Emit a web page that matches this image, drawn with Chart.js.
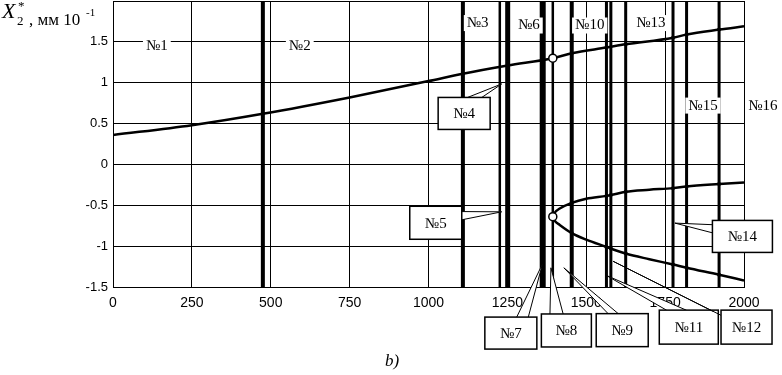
<!DOCTYPE html>
<html lang="ru">
<head>
  <meta charset="UTF-8" />
  <title>X2* по областям</title>
  <script src="https://cdn.jsdelivr.net/npm/chart.js"></script>
  <style>
    body { margin: 0; background: #fff; }
    #chart { display: block; }
  </style>
</head>
<body>
  <canvas id="chart" width="782" height="375"></canvas>

  <script>
    // верхняя ветвь
    const upperX = [0, 250, 475, 750, 1000, 1109, 1251, 1394, 1454, 1564, 1625, 1775, 1818, 1921, 2000];
    const upperY = [0.36, 0.48, 0.62, 0.82, 1.02, 1.11, 1.21, 1.30, 1.36, 1.43, 1.47, 1.55, 1.59, 1.65, 1.69];

    // нижние ветви после бифуркации
    const branchX = [1394, 1400, 1416, 1454, 1500, 1564, 1578, 1625, 1700, 1775, 1818, 1921, 2000];
    const branchUpY = [-0.64, -0.59, -0.54, -0.47, -0.42, -0.385, -0.375, -0.335, -0.31, -0.29, -0.27, -0.24, -0.22];
    const branchLowY = [-0.64, -0.69, -0.74, -0.84, -0.92, -1.01, -1.03, -1.09, -1.16, -1.225, -1.265, -1.35, -1.42];

    // точки бифуркации (светлые кружки)
    const openX = [1394, 1394];
    const openY = [1.30, -0.64];

    // границы областей
    const boundX = [475, 1109, 1226, 1251, 1362, 1394, 1454, 1564, 1578, 1625, 1775, 1818, 1921];
    const boundW = [4, 4, 2.5, 5, 6, 2.5, 4, 3, 3, 3, 3, 3, 3];

    const xTicks = [0, 250, 500, 750, 1000, 1250, 1500, 1750, 2000];
    const yTicks = [-1.5, -1, -0.5, 0, 0.5, 1, 1.5];

    // подписи областей
    const areaLabels = [
      { t: '№1', x: 139, y: 1.45 },
      { t: '№2', x: 592, y: 1.45 },
      { t: '№3', x: 1156, y: 1.73 },
      { t: '№6', x: 1318, y: 1.70 },
      { t: '№10', x: 1511, y: 1.70 },
      { t: '№13', x: 1705, y: 1.73 },
      { t: '№15', x: 1870, y: 0.72 },
      { t: '№16', x: 2060, y: 0.72 }
    ];

    // выноски: рамка, острие и основание клина
    const callouts = [
      { t: '№4', c: [1113, 0.624], w: 52, h: 32, tip: [1232, 0.985], a: [1124, 0.82], b: [1169, 0.82] },
      { t: '№5', c: [1023, -0.714], w: 52, h: 33, tip: [1232, -0.58], a: [1105, -0.577], b: [1105, -0.678] },
      { t: '№7', c: [1261, -2.064], w: 52, h: 32, tip: [1361, -1.22], a: [1279, -1.873], b: [1316, -1.873] },
      { t: '№8', c: [1437, -2.032], w: 50, h: 33, tip: [1388, -1.265], a: [1385, -1.833], b: [1427, -1.833] },
      { t: '№9', c: [1614, -2.028], w: 52, h: 33, tip: [1429, -1.265], a: [1569, -1.825], b: [1601, -1.825] },
      { t: '№11', c: [1825, -1.991], w: 59, h: 34, tip: [1564, -1.359], a: [1755, -1.785], b: [1818, -1.785] },
      { t: '№12', c: [2008, -1.991], w: 51, h: 34, tip: [1585, -1.185], a: [1901, -1.797], b: [1927, -1.846] },
      { t: '№14', c: [1995, -0.881], w: 60, h: 32, tip: [1781, -0.718], a: [1902, -0.738], b: [1902, -0.839] }
    ];

    const pts = (xs, ys) => xs.map((x, i) => ({ x: x, y: ys[i] }));
    const dotAt = (ctx) => {
      const p = ctx.raw;
      return p && boundX.includes(p.x) ? 2 : 0;
    };

    const datasets = [];
    datasets.push({ data: pts(openX, openY), showLine: false, pointRadius: 4,
      pointBackgroundColor: '#fff', pointBorderColor: '#000', pointBorderWidth: 1.5, order: 0 });
    [[upperX, upperY], [branchX, branchUpY], [branchX, branchLowY]].forEach(([xs, ys]) => {
      datasets.push({ data: pts(xs, ys), showLine: true, borderColor: '#000', borderWidth: 2.5,
        pointRadius: dotAt, pointBackgroundColor: '#000', pointBorderWidth: 0,
        cubicInterpolationMode: 'monotone', order: 1 });
    });
    boundX.forEach((x, i) => {
      datasets.push({ data: [{ x: x, y: -1.5 }, { x: x, y: 2 }], showLine: true, borderColor: '#000',
        borderWidth: boundW[i], pointRadius: 0, order: 2 });
    });

    const annotate = {
      id: 'annotate',
      afterDraw(chart) {
        const c = chart.ctx;
        const sx = chart.scales.x, sy = chart.scales.y;
        const px = (v) => sx.getPixelForValue(v);
        const py = (v) => sy.getPixelForValue(v);
        c.save();
        c.textAlign = 'center';
        c.textBaseline = 'middle';
        c.font = '15px "Liberation Serif", serif';

        areaLabels.forEach(l => {
          const w = c.measureText(l.t).width;
          c.fillStyle = '#fff';
          c.fillRect(px(l.x) - w / 2 - 3, py(l.y) - 8, w + 6, 16);
          c.fillStyle = '#000';
          c.fillText(l.t, px(l.x), py(l.y));
        });

        callouts.forEach(k => {
          const tx = px(k.tip[0]), ty = py(k.tip[1]);
          const ax = px(k.a[0]), ay = py(k.a[1]);
          const bx = px(k.b[0]), by = py(k.b[1]);
          c.fillStyle = '#fff';
          c.beginPath(); c.moveTo(ax, ay); c.lineTo(tx, ty); c.lineTo(bx, by); c.closePath(); c.fill();
          c.strokeStyle = '#000'; c.lineWidth = 1;
          c.beginPath(); c.moveTo(ax, ay); c.lineTo(tx, ty); c.lineTo(bx, by); c.stroke();
          const cx = px(k.c[0]), cy = py(k.c[1]);
          c.fillStyle = '#fff';
          c.fillRect(cx - k.w / 2, cy - k.h / 2, k.w, k.h);
          c.lineWidth = 1.5;
          c.strokeRect(cx - k.w / 2, cy - k.h / 2, k.w, k.h);
          c.fillStyle = '#000';
          c.fillText(k.t, cx, cy + 1);
        });

        // подпись оси Y
        c.textAlign = 'left';
        c.textBaseline = 'alphabetic';
        c.fillStyle = '#000';
        c.font = 'italic 22px "Liberation Serif", serif';
        c.fillText('X', 2, 18);
        c.font = '13px "Liberation Serif", serif';
        c.fillText('2', 17, 25);
        c.fillText('*', 18, 10);
        c.font = '17px "Liberation Serif", serif';
        c.fillText(', мм 10', 29, 25);
        c.font = '11px "Liberation Serif", serif';
        c.fillText('-1', 86, 16);

        // подпись рисунка
        c.font = 'italic 17px "Liberation Serif", serif';
        c.textAlign = 'center';
        c.fillText('b)', 392, 366);
        c.restore();
      }
    };

    new Chart(document.getElementById('chart'), {
      type: 'scatter',
      data: { datasets: datasets },
      options: {
        responsive: false,
        animation: false,
        layout: { autoPadding: false, padding: { top: 1, right: 38, left: 0, bottom: 0 } },
        plugins: { legend: { display: false }, tooltip: { enabled: false } },
        scales: {
          x: {
            type: 'linear', min: 0, max: 2000,
            afterBuildTicks: s => { s.ticks = xTicks.map(v => ({ value: v })); },
            ticks: { color: '#000', font: { family: 'Liberation Sans', size: 14 }, padding: 8, maxRotation: 0, autoSkip: false,
              callback: v => String(v) },
            grid: { color: '#000', lineWidth: 1, drawTicks: false },
            border: { color: '#000', width: 1 },
            afterFit: s => { s.height = 88; s.paddingLeft = 0; }
          },
          y: {
            type: 'linear', min: -1.5, max: 2,
            afterBuildTicks: s => { s.ticks = yTicks.concat([2]).map(v => ({ value: v })); },
            ticks: { color: '#000', font: { family: 'Liberation Sans', size: 13 }, padding: 5,
              callback: v => v === 2 ? '' : String(v) },
            grid: { color: '#000', lineWidth: 1, drawTicks: false },
            border: { color: '#000', width: 1 },
            afterFit: s => { s.width = 113; s.paddingTop = 0; s.paddingBottom = 0; }
          }
        }
      },
      plugins: [annotate]
    });
  </script>
</body>
</html>
